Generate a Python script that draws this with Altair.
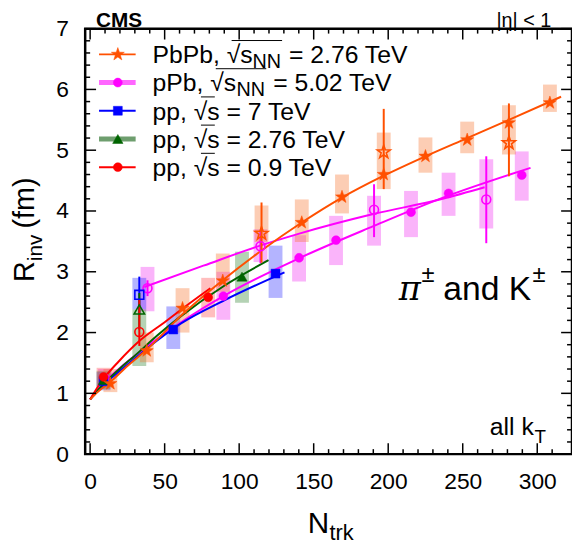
import math
import altair as alt
import pandas as pd

FONT = "Liberation Sans"
W, H = 492, 430
X_MAX, Y_MAX = 320, 7

# ---------------- data ----------------
# PbPb, sqrt(sNN) = 2.76 TeV
PBPB_X = [13.6, 38, 62, 89, 142, 169, 197, 225, 253, 281, 308.5]
PBPB_Y = [1.16, 1.70, 2.40, 2.85, 3.81, 4.23, 4.60, 4.90, 5.17, 5.45, 5.78]
PBPB_OPEN_X = [115, 197, 281]
PBPB_OPEN_Y = [3.63, 4.97, 5.12]
PBPB_OPEN_LO = [3.15, 4.36, 4.57]
PBPB_OPEN_HI = [4.14, 5.68, 5.77]
PBPB_SYS_X = [13.6, 38, 62, 89, 115, 142, 169, 197, 225, 253, 281, 308.5]
PBPB_SYS_LO = [1.02, 1.51, 2.00, 2.67, 3.49, 3.49, 3.96, 4.36, 4.63, 4.95, 4.93, 5.63]
PBPB_SYS_HI = [1.40, 2.00, 2.73, 3.30, 4.09, 4.19, 4.60, 5.29, 5.21, 5.47, 5.74, 6.08]
PBPB_FIT_X = [0, 5, 13.6, 25, 38, 62, 89, 115, 142, 169, 197, 225, 253, 281, 316]
PBPB_FIT_Y = [0.90, 1.02, 1.19, 1.45, 1.72, 2.30, 2.86, 3.35, 3.81, 4.22, 4.58, 4.90, 5.20, 5.50, 5.88]

# pPb, sqrt(sNN) = 5.02 TeV
PPB_X = [10, 89.4, 140.2, 165, 215.3, 240.5, 289.6]
PPB_Y = [1.25, 2.60, 3.23, 3.52, 3.98, 4.29, 4.59]
PPB_SYS_LO = [1.10, 2.21, 2.84, 3.11, 3.57, 3.92, 4.17]
PPB_SYS_HI = [1.40, 3.00, 3.60, 3.92, 4.33, 4.63, 4.98]
PPB_OPEN_X = [38.5, 114.3, 190.5, 265.8]
PPB_OPEN_Y = [2.73, 3.42, 4.02, 4.19]
PPB_OPEN_LO = [2.60, 3.14, 3.57, 3.47]
PPB_OPEN_HI = [2.86, 3.68, 4.44, 4.90]
PPB_OPEN_SYS_LO = [2.35, 3.16, 3.43, 3.71]
PPB_OPEN_SYS_HI = [3.08, 3.70, 4.25, 4.85]
PPB_FIT_X = [0, 5, 10, 30, 61, 89.4, 140, 190, 236.8, 295.5]
PPB_FIT_Y = [0.90, 1.06, 1.19, 1.62, 2.17, 2.60, 3.22, 3.75, 4.22, 4.71]
PPB_FIT2_X = [36.4, 76, 114, 139.2, 190, 236.6, 264.7]
PPB_FIT2_Y = [2.75, 3.10, 3.43, 3.62, 3.95, 4.20, 4.39]

# pp, sqrt(s) = 7 TeV
PP7_X = [9, 55.8, 124.4]
PP7_Y = [1.20, 2.05, 2.97]
PP7_SYS_LO = [1.05, 1.73, 2.57]
PP7_SYS_HI = [1.35, 2.43, 3.43]
PP7_OPEN_X = [33]
PP7_OPEN_Y = [2.62]
PP7_OPEN_LO = [2.30]
PP7_OPEN_HI = [2.92]
PP7_OPEN_SYS_LO = [2.38]
PP7_OPEN_SYS_HI = [2.90]
PP7_FIT_X = [0, 5, 10, 20, 28.8, 45, 61, 90, 130.4]
PP7_FIT_Y = [0.90, 1.04, 1.16, 1.37, 1.55, 1.87, 2.15, 2.53, 2.99]

# pp, sqrt(s) = 2.76 TeV
PP276_X = [9, 101.9]
PP276_Y = [1.22, 2.92]
PP276_SYS_LO = [1.07, 2.49]
PP276_SYS_HI = [1.37, 3.33]
PP276_OPEN_X = [33]
PP276_OPEN_Y = [2.38]
PP276_OPEN_LO = [2.05]
PP276_OPEN_HI = [2.65]
PP276_OPEN_SYS_LO = [1.45]
PP276_OPEN_SYS_HI = [2.38]
PP276_FIT_X = [0, 5, 10, 20, 30, 45, 61, 90, 119.7]
PP276_FIT_Y = [0.90, 1.05, 1.18, 1.41, 1.62, 1.95, 2.27, 2.77, 3.19]

# pp, sqrt(s) = 0.9 TeV
PP09_X = [9, 79.2]
PP09_Y = [1.27, 2.58]
PP09_SYS_LO = [1.12, 2.25]
PP09_SYS_HI = [1.42, 2.90]
PP09_OPEN_X = [33]
PP09_OPEN_Y = [2.01]
PP09_OPEN_LO = [1.78]
PP09_OPEN_HI = [2.54]
PP09_FIT_X = [0, 5, 10, 19, 33, 50, 61.2, 80.7]
PP09_FIT_Y = [0.90, 1.10, 1.27, 1.52, 1.86, 2.17, 2.38, 2.73]

X_LABELS = [0, 50, 100, 150, 200, 250, 300]
Y_LABELS = [0, 1, 2, 3, 4, 5, 6, 7]
X_MINOR = [v for v in range(10, 320, 10) if v % 50]
Y_MINOR = [round(0.2 * i, 1) for i in range(1, 35) if i % 5]

# ---------------- styles ----------------
C_PBPB, C_PPB, C_PP7, C_PP276, C_PP09 = "#ff5000", "#ff00ff", "#0000ff", "#006400", "#ff0000"
S_PBPB, S_PPB, S_PP7, S_PP276, S_PP09 = "#f67029", "#f129f1", "#2929ff", "#297e29", "#ff4545"
SYS_OP = 0.35

def star_path(r_in=0.4):
    pts = []
    for k in range(5):
        a = math.radians(-90 + 72 * k)
        pts.append((math.cos(a), math.sin(a)))
        b = math.radians(-90 + 72 * k + 36)
        pts.append((r_in * math.cos(b), r_in * math.sin(b)))
    return "M" + "L".join(f"{x:.3f},{y:.3f}" for x, y in pts) + "Z"

STAR = star_path()

xs = alt.Scale(domain=[0, X_MAX], nice=False, zero=False)
ys = alt.Scale(domain=[0, Y_MAX], nice=False, zero=False)
xaxis = alt.Axis(values=X_LABELS, ticks=False, domain=False, grid=False, title=None,
                 labelFontSize=23, labelPadding=17, labelFont=FONT, labelColor="black")
yaxis = alt.Axis(values=Y_LABELS, ticks=False, domain=False, grid=False, title=None,
                 labelFontSize=23, labelPadding=17, labelFont=FONT, labelColor="black")

def X(f):
    return alt.X(f"{f}:Q", scale=xs, axis=xaxis)

def Y(f):
    return alt.Y(f"{f}:Q", scale=ys, axis=yaxis)

layers = []

def sys_boxes(xv, lo, hi, color):
    df = pd.DataFrame({"x": xv, "lo": lo, "hi": hi})
    return alt.Chart(df).mark_bar(size=14, color=color, opacity=SYS_OP).encode(
        x=X("x"), y=Y("lo"), y2="hi")

def fit_line(xv, yv, color, width=2):
    df = pd.DataFrame({"x": xv, "y": yv})
    return alt.Chart(df).mark_line(color=color, strokeWidth=width, interpolate="monotone").encode(
        x=X("x"), y=Y("y"))

def err_bars(xv, lo, hi, color):
    df = pd.DataFrame({"x": xv, "lo": lo, "hi": hi})
    return alt.Chart(df).mark_rule(color=color, strokeWidth=2).encode(
        x=X("x"), y=Y("lo"), y2="hi")

def markers(xv, yv, color, shape, size, filled=True):
    df = pd.DataFrame({"x": xv, "y": yv})
    kw = dict(shape=shape, size=size, opacity=1)
    if filled:
        kw.update(filled=True, fill=color, stroke=color, strokeWidth=0.5)
    else:
        kw.update(filled=False, fill="white", fillOpacity=0, stroke=color, strokeWidth=1.6)
    return alt.Chart(df).mark_point(**kw).encode(x=X("x"), y=Y("y"))

# systematic boxes
layers += [
    sys_boxes(PPB_X, PPB_SYS_LO, PPB_SYS_HI, S_PPB),
    sys_boxes(PPB_OPEN_X, PPB_OPEN_SYS_LO, PPB_OPEN_SYS_HI, S_PPB),
    sys_boxes(PP7_X, PP7_SYS_LO, PP7_SYS_HI, S_PP7),
    sys_boxes(PP7_OPEN_X, PP7_OPEN_SYS_LO, PP7_OPEN_SYS_HI, S_PP7),
    sys_boxes(PP276_X, PP276_SYS_LO, PP276_SYS_HI, S_PP276),
    sys_boxes(PP276_OPEN_X, PP276_OPEN_SYS_LO, PP276_OPEN_SYS_HI, S_PP276),
    sys_boxes(PP09_X, PP09_SYS_LO, PP09_SYS_HI, S_PP09),
    sys_boxes(PBPB_SYS_X, PBPB_SYS_LO, PBPB_SYS_HI, S_PBPB),
]
# fit lines
layers += [
    fit_line(PPB_FIT_X, PPB_FIT_Y, C_PPB),
    fit_line(PPB_FIT2_X, PPB_FIT2_Y, C_PPB),
    fit_line(PP7_FIT_X, PP7_FIT_Y, C_PP7),
    fit_line(PP276_FIT_X, PP276_FIT_Y, C_PP276),
    fit_line(PP09_FIT_X, PP09_FIT_Y, C_PP09),
    fit_line(PBPB_FIT_X, PBPB_FIT_Y, C_PBPB),
]
# error bars
layers += [
    err_bars(PPB_OPEN_X, PPB_OPEN_LO, PPB_OPEN_HI, C_PPB),
    err_bars(PP7_OPEN_X, PP7_OPEN_LO, PP7_OPEN_HI, C_PP7),
    err_bars(PP276_OPEN_X, PP276_OPEN_LO, PP276_OPEN_HI, C_PP276),
    err_bars(PP09_OPEN_X, PP09_OPEN_LO, PP09_OPEN_HI, C_PP09),
    err_bars(PBPB_OPEN_X, PBPB_OPEN_LO, PBPB_OPEN_HI, C_PBPB),
]
# markers
layers += [
    markers(PPB_X, PPB_Y, C_PPB, "circle", 81),
    markers(PPB_OPEN_X, PPB_OPEN_Y, C_PPB, "circle", 81, filled=False),
    markers(PP7_X, PP7_Y, C_PP7, "square", 81),
    markers(PP7_OPEN_X, PP7_OPEN_Y, C_PP7, "square", 81, filled=False),
    markers(PP276_X, PP276_Y, C_PP276, "triangle-up", 110),
    markers(PP276_OPEN_X, PP276_OPEN_Y, C_PP276, "triangle-up", 110, filled=False),
    markers(PP09_X, PP09_Y, C_PP09, "circle", 81),
    markers(PP09_OPEN_X, PP09_OPEN_Y, C_PP09, "circle", 81, filled=False),
    markers(PBPB_X, PBPB_Y, C_PBPB, STAR, 190),
    markers(PBPB_OPEN_X, PBPB_OPEN_Y, C_PBPB, STAR, 190, filled=False),
]

# frame ticks (inward)
def ticks(vals, length, axis):
    df = pd.DataFrame({"v": vals})
    base = alt.Chart(df).mark_rule(color="black", strokeWidth=1.5)
    if axis == "x":
        return [base.encode(x=X("v"), y=alt.value(H), y2=alt.value(H - length)),
                base.encode(x=X("v"), y=alt.value(0), y2=alt.value(length))]
    return [base.encode(y=Y("v"), x=alt.value(0), x2=alt.value(length)),
            base.encode(y=Y("v"), x=alt.value(W), x2=alt.value(W - length))]

layers += ticks(X_LABELS, 11, "x") + ticks(X_MINOR, 5, "x")
layers += ticks(Y_LABELS, 11, "y") + ticks(Y_MINOR, 5, "y")

one = pd.DataFrame({"a": [0]})

def txt(s, x, y, size, align="left", baseline="alphabetic", angle=0, weight="normal",
        font=FONT, style="normal", color="black"):
    kw = dict(text=s, fontSize=size, align=align, baseline=baseline, font=font,
              fontWeight=weight, fontStyle=style, color=color)
    if angle:
        kw["angle"] = angle
    return alt.Chart(one).mark_text(**kw).encode(x=alt.value(x), y=alt.value(y))

def hrule(x1, x2, y, color, width):
    return alt.Chart(one).mark_rule(color=color, strokeWidth=width).encode(
        x=alt.value(x1), x2=alt.value(x2), y=alt.value(y))

def pt(x, y, color, shape, size):
    return alt.Chart(one).mark_point(shape=shape, size=size, filled=True, fill=color,
                                     stroke=color, strokeWidth=0.5, opacity=1).encode(
        x=alt.value(x), y=alt.value(y))

# legend
LX0, LX1, LM, LT = 14, 51, 33, 68
rows = [26, 54.5, 83, 111.5, 140]
FS, FSS = 25, 20
leg_style = [
    (C_PBPB, 2, C_PBPB, STAR, 190),
    ("#ff66ff", 5, C_PPB, "circle", 81),
    (C_PP7, 2, C_PP7, "square", 81),
    ("#6e9e6e", 5, C_PP276, "triangle-up", 110),
    (C_PP09, 2, C_PP09, "circle", 81),
]
for ry, (lc, lw, mc, shp, sz) in zip(rows, leg_style):
    layers.append(hrule(LX0, LX1, ry, lc, lw))
    layers.append(pt(LM, ry, mc, shp, sz))

b = 9  # baseline offset from row centre
# PbPb row
layers += [txt("PbPb, \u221as", LT, rows[0] + b, FS),
           txt("NN", LT + 101, rows[0] + b + 5, FSS),
           txt("= 2.76 TeV", LT + 138, rows[0] + b, FS),
           hrule(LT + 80, LT + 131, rows[0] + b - 23, "black", 1)]
# pPb row
layers += [txt("pPb, \u221as", LT, rows[1] + b, FS),
           txt("NN", LT + 85, rows[1] + b + 5, FSS),
           txt("= 5.02 TeV", LT + 122, rows[1] + b, FS),
           hrule(LT + 64, LT + 115, rows[1] + b - 23, "black", 1)]
for ry, e in zip(rows[2:], ["7", "2.76", "0.9"]):
    layers += [txt(f"pp, \u221as = {e} TeV", LT, ry + b, FS),
               hrule(LT + 49, LT + 63, ry + b - 23, "black", 1)]

# annotations
layers += [
    txt("CMS", 11, -2, 21, weight="bold"),
    txt("|\u03b7| < 1", 471, -2, 20, align="right"),
    txt("\u03c0", 317, 274, 34, font="DejaVu Serif", style="italic"),
    txt("\u00b1", 340, 256, 24),
    txt("and K", 362, 274, 34),
    txt("\u00b1", 452, 256, 24),
    txt("all k", 409, 411, 25),
    txt("T", 454, 419, 19),
]
# axis titles
layers += [
    txt("N", 225, 510, 30),
    txt("trk", 247, 517, 22),
    txt("R", -52, 256, 29, angle=270),
    txt("inv", -44, 235, 21, angle=270),
    txt("(fm)", -52, 202, 29, angle=270),
]

chart = alt.layer(*layers).properties(
    width=W, height=H,
    autosize=alt.AutoSizeParams(type="none"),
    padding={"left": 78, "top": 18, "right": 0, "bottom": 90},
).configure_view(stroke="black", strokeWidth=2.5)

chart.save("out.html", embed_options={"renderer": "svg", "actions": False})
